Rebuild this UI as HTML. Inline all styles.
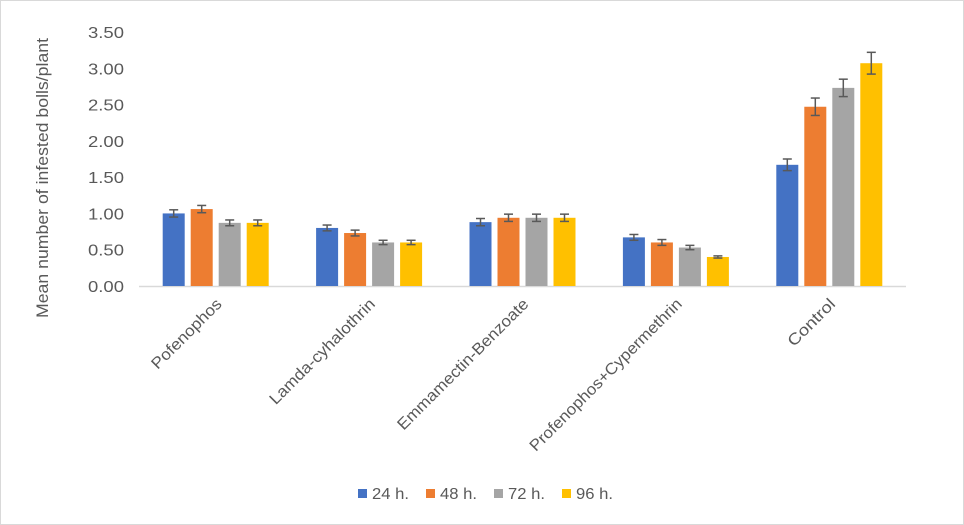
<!DOCTYPE html>
<html><head><meta charset="utf-8"><style>
html,body{margin:0;padding:0;background:#fff}
svg{display:block;font-family:"Liberation Sans",Arial,sans-serif}
</style></head><body>
<svg id="s" width="964" height="525" xmlns="http://www.w3.org/2000/svg">
<rect x="0.5" y="0.5" width="963" height="524" fill="#fff" stroke="#d9d9d9"/>
</svg>
<script>
var s=document.getElementById('s'),h='';
var y0=286,k=72.57,x0=139,cw=153.4;
for(var i=0;i<=7;i++){var v=i*0.5,y=y0-v*k;
 h+='<text x="124" y="'+(y+6)+'" text-anchor="end" font-size="16" textLength="36" lengthAdjust="spacingAndGlyphs" fill="#595959">'+v.toFixed(2)+'</text>';}
h+='<line x1="139" y1="286.5" x2="906" y2="286.5" stroke="#d9d9d9" stroke-width="1.5"/>';
var cats=['Pofenophos','Lamda-cyhalothrin','Emmamectin-Benzoate','Profenophos+Cypermethrin','Control'];
var lens=[92,142,178,208,60];
var vals=[[1.00,1.06,0.87,0.87],[0.80,0.73,0.60,0.60],[0.88,0.94,0.94,0.94],[0.67,0.60,0.53,0.40],[1.67,2.47,2.73,3.07]];
var errs=[[.05,.05,.04,.04],[.04,.04,.03,.03],[.05,.05,.05,.05],[.04,.04,.03,.015],[.08,.12,.12,.15]];
var cols=['#4472c4','#ed7d31','#a5a5a5','#ffc000'];
for(var c=0;c<5;c++){var cx=x0+cw*(c+0.5);
 for(var j=0;j<4;j++){var x=cx-53+28*j,v=vals[c][j],t=y0-v*k;
  h+='<rect x="'+x+'" y="'+t+'" width="22" height="'+(v*k)+'" fill="'+cols[j]+'"/>';
  var e=errs[c][j]*k,m=x+11;
  h+='<g stroke="#595959" stroke-width="1.5"><line x1="'+m+'" y1="'+(t-e)+'" x2="'+m+'" y2="'+(t+e)+'"/><line x1="'+(m-4.5)+'" y1="'+(t-e)+'" x2="'+(m+4.5)+'" y2="'+(t-e)+'"/><line x1="'+(m-4.5)+'" y1="'+(t+e)+'" x2="'+(m+4.5)+'" y2="'+(t+e)+'"/></g>';}
 h+='<text transform="translate('+(cx+7)+',305) rotate(-45)" text-anchor="end" font-size="16" textLength="'+lens[c]+'" lengthAdjust="spacingAndGlyphs" fill="#595959">'+cats[c]+'</text>';}
h+='<text transform="translate(48,178) rotate(-90)" text-anchor="middle" font-size="17" textLength="280" lengthAdjust="spacingAndGlyphs" fill="#595959">Mean number of infested bolls/plant</text>';
var lab=['24 h.','48 h.','72 h.','96 h.'];
for(var j=0;j<4;j++){var lx=358+68*j;
 h+='<rect x="'+lx+'" y="489" width="9" height="9" fill="'+cols[j]+'"/><text x="'+(lx+14)+'" y="499" font-size="16" textLength="37" lengthAdjust="spacingAndGlyphs" fill="#595959">'+lab[j]+'</text>';}
s.insertAdjacentHTML('beforeend',h);
</script>
</body></html>
